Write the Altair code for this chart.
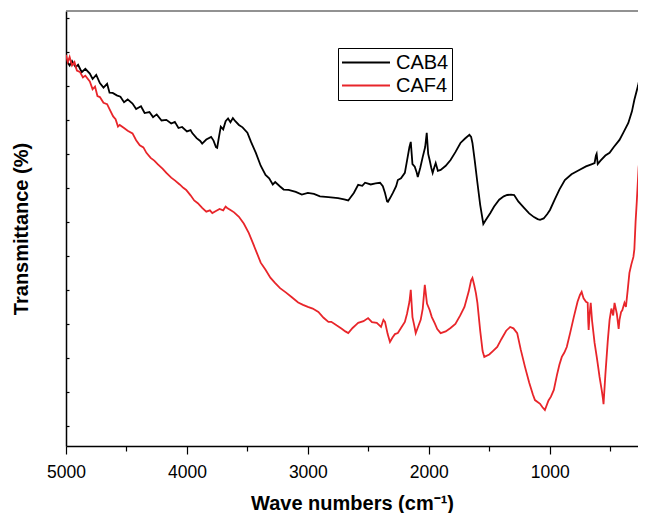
import altair as alt
import pandas as pd

# ---- data ----
series = ["CAB4", "CAF4"]
colors = ["#000000", "#E8252A"]

wn_cab4 = [5000, 4970, 4950, 4920, 4900, 4870, 4840, 4803, 4780, 4750, 4720, 4690, 4660, 4640, 4614,
           4580, 4550, 4520, 4490, 4450, 4420, 4380, 4350, 4310, 4280, 4250, 4210, 4170, 4130, 4100,
           4070, 4040, 4000, 3970, 3956, 3920, 3890, 3874, 3840, 3800, 3780, 3760, 3750, 3735, 3720,
           3700, 3680, 3660, 3640, 3620, 3600, 3570, 3540, 3500, 3470, 3430, 3390, 3350, 3320, 3290,
           3270, 3230, 3200, 3160, 3100, 3050, 3000, 2950, 2900, 2830, 2750, 2700, 2666, 2620, 2584,
           2550, 2527, 2480, 2440, 2403, 2380, 2362, 2345, 2338, 2320, 2297, 2270, 2256, 2230, 2198,
           2180, 2160, 2149, 2135, 2116, 2100, 2091, 2070, 2050, 2030, 2017, 2005, 1993, 1980, 1968,
           1955, 1943, 1925, 1902, 1860, 1820, 1780, 1738, 1700, 1664, 1650, 1639, 1620, 1598, 1575,
           1549, 1530, 1491, 1460, 1418, 1380, 1352, 1320, 1294, 1260, 1212, 1170, 1130, 1100, 1080,
           1050, 1020, 998, 960, 920, 875, 820, 752, 700, 650, 629, 618, 612, 603, 580,
           540, 505, 470, 423, 390, 350, 320, 300, 270, 242]
t_cab4 = [207.6, 206.0, 207.3, 205.5, 206.2, 204.0, 205.0, 203.6, 202.0, 203.2, 200.8, 199.5, 200.6, 198.0, 197.9,
          197.2, 196.8, 195.2, 196.0, 194.8, 193.2, 194.0, 192.0, 192.3, 190.8, 191.6, 189.8, 190.0, 188.9, 189.4,
          187.6, 187.9, 186.6, 187.0, 186.1, 184.6, 183.8, 183.0, 184.2, 185.0, 183.9, 182.0, 181.8, 185.0, 188.0,
          187.2, 189.6, 190.4, 189.3, 190.5, 189.6, 188.5, 187.8, 186.2, 183.5, 180.3, 176.5, 173.8, 172.8, 171.0,
          171.7, 170.4, 169.5, 169.4, 168.8, 168.0, 168.5, 168.2, 167.5, 167.3, 167.0, 166.6, 166.3, 168.5, 170.9,
          170.6, 171.5, 171.0, 171.3, 171.5, 170.5, 168.5, 166.0, 165.9, 167.0, 168.5, 170.5, 172.3, 172.8, 174.4,
          178.0, 182.0, 183.5, 177.0, 176.2, 174.5, 173.2, 176.0, 179.1, 182.0, 186.2, 180.0, 178.2, 176.0, 174.4,
          176.0, 177.3, 175.0, 175.3, 176.5, 178.2, 180.5, 183.2, 184.5, 185.6, 185.0, 183.2, 178.0, 171.5, 165.0,
          159.4, 160.5, 162.6, 164.5, 166.5, 167.5, 167.9, 168.0, 167.9, 166.0, 164.1, 162.5, 161.4, 160.8, 160.6,
          161.0, 162.3, 163.5, 166.5, 169.5, 172.3, 174.0, 175.3, 176.3, 177.0, 177.3, 179.5, 180.0, 177.0, 178.0,
          179.5, 180.3, 182.0, 184.1, 186.3, 189.1, 192.5, 195.9, 200.0, 204.7]

wn_caf4 = [5000, 4985, 4970, 4950, 4930, 4910, 4885, 4860, 4840, 4803, 4780, 4760, 4740, 4720, 4690,
           4660, 4638, 4610, 4590, 4570, 4556, 4520, 4490, 4450, 4420, 4390, 4360, 4335, 4300, 4270,
           4240, 4200, 4170, 4130, 4100, 4060, 4030, 4006, 3970, 3940, 3910, 3874, 3840, 3810, 3790,
           3760, 3730, 3700, 3680, 3667, 3640, 3610, 3570, 3530, 3488, 3455, 3422, 3390, 3350, 3310,
           3270, 3230, 3180, 3135, 3080, 3040, 3000, 2960, 2913, 2870, 2830, 2806, 2760, 2720, 2690,
           2666, 2630, 2600, 2584, 2540, 2502, 2470, 2430, 2395, 2375, 2362, 2340, 2321, 2300, 2280,
           2256, 2230, 2198, 2180, 2160, 2149, 2135, 2120, 2108, 2090, 2067, 2050, 2033, 2015, 1993,
           1975, 1952, 1930, 1902, 1860, 1820, 1780, 1740, 1705, 1670, 1650, 1639, 1625, 1610, 1598,
           1575, 1555, 1541, 1500, 1470, 1434, 1400, 1360, 1327, 1300, 1269, 1240, 1204, 1170, 1140,
           1122, 1080, 1060, 1040, 1010, 990, 966, 940, 920, 900, 880, 859, 830, 801, 770,
           750, 736, 720, 700, 686, 682, 678, 670, 661, 650, 629, 610, 600, 588, 570,
           560, 555, 540, 520, 505, 490, 475, 464, 445, 430, 423, 410, 400, 382, 370,
           355, 341, 325, 308, 300, 290, 280, 265, 250, 242]
t_caf4 = [209.1, 207.0, 208.5, 206.0, 207.0, 204.5, 204.1, 202.5, 203.0, 201.3, 199.0, 199.8, 197.0, 196.7, 195.0,
          194.6, 193.0, 191.0, 190.2, 188.0, 188.5, 187.6, 186.8, 186.0, 184.0, 182.5, 181.9, 180.3, 178.8, 178.0,
          176.9, 175.6, 174.4, 173.0, 172.2, 171.0, 170.0, 169.4, 167.8, 166.3, 165.5, 164.1, 163.0, 163.4, 162.6,
          163.2, 163.8, 163.4, 164.5, 164.1, 163.5, 162.8, 161.5, 159.5, 156.7, 153.8, 150.9, 148.0, 145.9, 143.6,
          142.0, 140.5, 139.2, 137.9, 136.3, 135.6, 135.0, 134.5, 133.5, 131.8, 130.6, 130.6, 129.5, 128.6, 127.8,
          127.3, 128.8, 129.8, 130.3, 130.8, 131.7, 130.5, 130.3, 129.1, 131.2, 130.6, 127.0, 124.7, 126.0, 127.0,
          127.3, 128.8, 130.6, 133.0, 136.5, 140.0, 132.0, 129.5, 127.3, 129.0, 131.2, 134.5, 141.5, 136.0, 134.1,
          132.0, 130.3, 128.5, 127.3, 127.8, 128.8, 130.0, 132.5, 135.0, 139.5, 142.8, 143.5, 141.5, 139.0, 136.2,
          128.0, 122.0, 120.3, 121.0, 122.0, 123.2, 125.5, 128.0, 129.1, 128.7, 127.3, 122.5, 117.3, 112.8, 109.3,
          107.6, 106.5, 105.5, 104.7, 107.5, 108.6, 110.6, 115.0, 118.0, 120.3, 121.5, 123.2, 127.5, 132.0, 136.5,
          138.5, 139.4, 137.5, 136.5, 136.2, 131.0, 128.2, 133.0, 136.2, 131.0, 124.4, 120.0, 117.5, 114.4, 110.5,
          108.0, 106.4, 115.0, 125.0, 131.2, 134.5, 132.5, 136.2, 133.0, 128.5, 131.2, 133.5, 134.0, 136.2, 135.0,
          140.0, 145.0, 147.5, 149.7, 152.0, 160.0, 166.0, 176.0, 181.0, 184.7]

x_major = [5000, 4000, 3000, 2000, 1000]
x_minor = [4500, 3500, 2500, 1500, 500]
y_ticks = [100, 110, 120, 130, 140, 150, 160, 170, 180, 190, 200, 210, 220]
x_domain = [5000, 270]
y_domain = [94.1, 222.0]

df = pd.concat([
    pd.DataFrame({"wn": wn_cab4, "t": t_cab4, "series": series[0]}),
    pd.DataFrame({"wn": wn_caf4, "t": t_caf4, "series": series[1]}),
], ignore_index=True)

W, H = 572, 435
FONT = "Liberation Sans"
xs = alt.Scale(domain=x_domain, nice=False, zero=False)
ys = alt.Scale(domain=y_domain, nice=False, zero=False)

lines = alt.Chart(df).mark_line(strokeWidth=1.8, clip=True).encode(
    x=alt.X("wn:Q", scale=xs,
            axis=alt.Axis(values=x_major, format="d", orient="bottom", labelFlush=False,
                          tickSize=8, labelPadding=9, titlePadding=13, grid=False),
            title="Wave numbers (cm⁻¹)"),
    y=alt.Y("t:Q", scale=ys,
            axis=alt.Axis(values=y_ticks, labels=False, ticks=False, orient="left",
                          titlePadding=35, grid=False),
            title="Transmittance (%)"),
    color=alt.Color("series:N",
                    scale=alt.Scale(domain=series, range=colors),
                    legend=alt.Legend(title=None, orient="none", legendX=272, legendY=37,
                                      symbolType="stroke", symbolSize=2304, symbolStrokeWidth=2,
                                      clipHeight=23, padding=3, labelOffset=5,
                                      labelFont=FONT, labelFontSize=20, labelColor="#000000",
                                      strokeColor="#000000", rowPadding=0)),
    detail="series:N",
)

# minor x ticks and inward y ticks (second, unlabeled axes)
minor = alt.Chart(df).mark_line(opacity=0).encode(
    x=alt.X("wn:Q", scale=xs,
            axis=alt.Axis(values=x_minor, orient="bottom", labels=False, domain=False,
                          tickSize=5, grid=False),
            title=None),
    y=alt.Y("t:Q", scale=ys,
            axis=alt.Axis(values=y_ticks, orient="left", labels=False, domain=False,
                          tickSize=3, offset=-3, grid=False),
            title=None),
    detail="series:N",
)

top_border = alt.Chart(pd.DataFrame({"k": [0]})).mark_rule(color="#6e6e6e", strokeWidth=1.5).encode(
    x=alt.value(0), x2=alt.value(W), y=alt.value(0)
)

chart = alt.layer(lines, minor, top_border).resolve_axis(x="independent", y="independent").properties(
    width=W, height=H,
    padding={"left": 58, "top": 3, "right": 0, "bottom": 67},
    autosize=alt.AutoSizeParams(type="none"),
).configure_view(stroke=None).configure_axis(
    domainColor="#000000", domainWidth=1.5, tickColor="#000000", tickWidth=1.2,
    labelFont=FONT, labelFontSize=17.5, labelColor="#000000",
    titleFont=FONT, titleFontSize=20, titleFontWeight="bold", titleColor="#000000",
)

chart.save("out.html", embed_options={"renderer": "svg", "actions": False})
